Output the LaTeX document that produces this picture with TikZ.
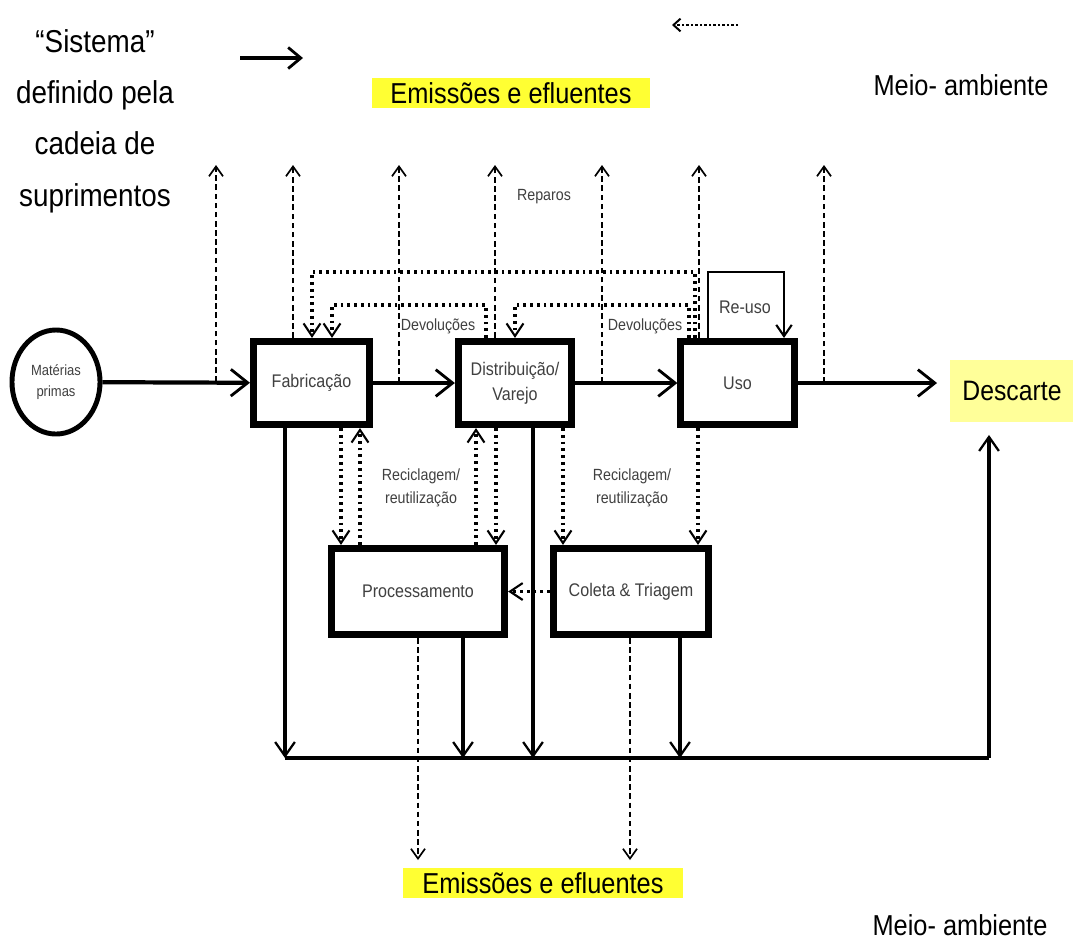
\documentclass[tikz,border=0pt]{standalone}
\usepackage{fontspec}
\setmainfont{Liberation Sans}[FakeStretch=0.88]
\usetikzlibrary{arrows.meta,shapes.geometric}
\definecolor{hl}{HTML}{FFFF33}
\definecolor{hlpale}{HTML}{FFFF99}
\definecolor{lbl}{HTML}{404040}
\tikzset{
  box/.style={draw, line width=5pt, fill=white, inner sep=0pt, align=center,
    text=lbl, font=\fontsize{13}{18}\selectfont},
  mainflow/.style={line width=3pt, -{Straight Barb[length=12pt,width=19pt,line width=2pt]}},
  downflow/.style={line width=2.2pt, -{Straight Barb[length=10pt,width=14pt,line width=1.6pt]}},
  emis/.style={line width=1pt, dash pattern=on 4pt off 2.5pt,
    -{Straight Barb[length=7pt,width=10pt,line width=1.2pt]}},
  ret/.style={line width=2.2pt, dash pattern=on 2pt off 2.8pt,
    -{Straight Barb[length=9pt,width=12pt,line width=1.5pt]}},
  reuse/.style={line width=1.3pt, -{Straight Barb[length=8pt,width=11pt,line width=1.5pt]}},
  small/.style={text=lbl, font=\fontsize{11.5}{16}\selectfont, align=center, inner sep=1pt},
  big/.style={font=\fontsize{20.5}{24}\selectfont, inner sep=0pt},
}
\begin{document}
\begin{tikzpicture}[x=0.025cm, y=-0.025cm]
\useasboundingbox[fill=white] (0,0) rectangle (1073,950);

% legend
\node[font=\fontsize{22.5}{36.5}\selectfont, align=center] (sys) at (95,121)
  {“Sistema”\\definido pela\\cadeia de\\suprimentos};
\coordinate (lgA) at (240,58);
\coordinate (lgB) at (303,58);
\draw[line width=3.5pt, -{Straight Barb[length=9pt,width=15pt,line width=2pt]}] (lgA) -- (lgB);
\coordinate (ldA) at (738,25);
\coordinate (ldB) at (672,25);
\draw[line width=2pt, dash pattern=on 1.6pt off 1.6pt,
  -{Straight Barb[length=5pt,width=9pt,line width=1.4pt]}] (ldA) -- (ldB);

% environment labels
\node[big, fill=hl, minimum width=6.95cm, minimum height=0.75cm] (emT) at (511,93) {Emissões e efluentes};
\node[big, fill=hl, minimum width=7cm, minimum height=0.75cm] (emB) at (543,883) {Emissões e efluentes};
\node[big] (maT) at (961,85) {Meio- ambiente};
\node[big] (maB) at (960,925) {Meio- ambiente};

% main nodes
\node[ellipse, draw, line width=3.5pt, minimum width=2.2cm, minimum height=2.6cm, inner sep=0pt,
  align=center, text=lbl, font=\fontsize{10.5}{15}\selectfont] (mp) at (56,382) {Matérias\\primas};
\node[box, minimum width=2.9cm, minimum height=2.075cm] (fab) at (311.5,383) {Fabricação};
\node[box, minimum width=2.83cm, minimum height=2.075cm] (dist) at (515,383) {Distribuição/\\Varejo};
\node[box, minimum width=2.83cm, minimum height=2.075cm] (uso) at (737.5,383) {Uso};
\node[box, minimum width=4.33cm, minimum height=2.15cm] (proc) at (418,591.5) {Processamento};
\node[box, minimum width=3.88cm, minimum height=2.15cm] (col) at (631,591.5) {Coleta \& Triagem};
\node[fill=hlpale, minimum width=3.1cm, minimum height=1.55cm, inner sep=0pt,
  font=\fontsize{20}{24}\selectfont] (desc) at (1012,391) {Descarte};

% main flow
\draw[mainflow] (mp) -- (fab);
\draw[mainflow] (fab) -- (dist);
\draw[mainflow] (dist) -- (uso);
\draw[mainflow, shorten >=9pt] (uso) -- (uso -| desc.west);

% emissions (top)
\coordinate (e1) at (216,165);
\coordinate (e2) at (293,165);
\coordinate (e3) at (399,165);
\coordinate (e4) at (495,165);
\coordinate (e5) at (602,165);
\coordinate (e6) at (699,165);
\coordinate (e7) at (824,165);
\draw[emis] (e1 |- mp.east) -- (e1);
\draw[emis] (e2 |- fab.north) -- (e2);
\draw[emis] (e3 |- fab.east) -- (e3);
\draw[emis] (e4 |- dist.north) -- (e4);
\draw[emis] (e5 |- dist.east) -- (e5);
\draw[emis] (e6 |- uso.north) -- (e6);
\draw[emis] (e7 |- uso.east) -- (e7);

% emissions (bottom)
\coordinate (f1) at (418,860);
\coordinate (f2) at (630,860);
\draw[emis] (proc.south -| f1) -- (f1);
\draw[emis] (col.south -| f2) -- (f2);

% returns
\coordinate (t1) at (312,272);
\coordinate (t1r) at (695,272);
\draw[ret] (uso.north -| t1r) -- (t1r) -- (t1) -- (fab.north -| t1);
\coordinate (t2) at (332,305);
\coordinate (t2r) at (486,305);
\draw[ret] (dist.north -| t2r) -- (t2r) -- (t2) -- (fab.north -| t2);
\coordinate (t3) at (515,305);
\coordinate (t3r) at (689,305);
\draw[ret] (uso.north -| t3r) -- (t3r) -- (t3) -- (dist.north -| t3);
\coordinate (t4) at (708,272);
\coordinate (t4r) at (784,272);
\draw[reuse] (uso.north -| t4) -- (t4) -- (t4r) -- (uso.north -| t4r);

% recycling
\coordinate (c1) at (341,0);
\coordinate (c2) at (360,0);
\coordinate (c3) at (476,0);
\coordinate (c4) at (496,0);
\coordinate (c5) at (563,0);
\coordinate (c6) at (698,0);
\draw[ret] (fab.south -| c1) -- (proc.north -| c1);
\draw[ret] (proc.north -| c2) -- (fab.south -| c2);
\draw[ret] (proc.north -| c3) -- (dist.south -| c3);
\draw[ret] (dist.south -| c4) -- (proc.north -| c4);
\draw[ret] (dist.south -| c5) -- (col.north -| c5);
\draw[ret] (uso.south -| c6) -- (col.north -| c6);
\draw[ret] (col.west) -- (proc.east);

% disposal bus
\coordinate (b1) at (285,758);
\coordinate (b2) at (463,758);
\coordinate (b3) at (533,758);
\coordinate (b4) at (680,758);
\coordinate (b5) at (989,758);
\draw[downflow] (fab.south -| b1) -- (b1);
\draw[downflow] (proc.south -| b2) -- (b2);
\draw[downflow] (dist.south -| b3) -- (b3);
\draw[downflow] (col.south -| b4) -- (b4);
\draw[line width=3.5pt] (b1) -- (b5);
\draw[downflow, shorten >=9pt] (b5) -- (b5 |- desc.south);

% labels
\node[small] (lrep) at (544,197) {Reparos};
\node[small] (ldev1) at (438,326) {Devoluções};
\node[small] (ldev2) at (645,326) {Devoluções};
\node[small, font=\fontsize{13}{16}\selectfont] (lreu) at (745,307) {Re-uso};
\node[small] (lrec1) at (421,488) {Reciclagem/\\reutilização};
\node[small] (lrec2) at (632,488) {Reciclagem/\\reutilização};
\end{tikzpicture}
\end{document}
